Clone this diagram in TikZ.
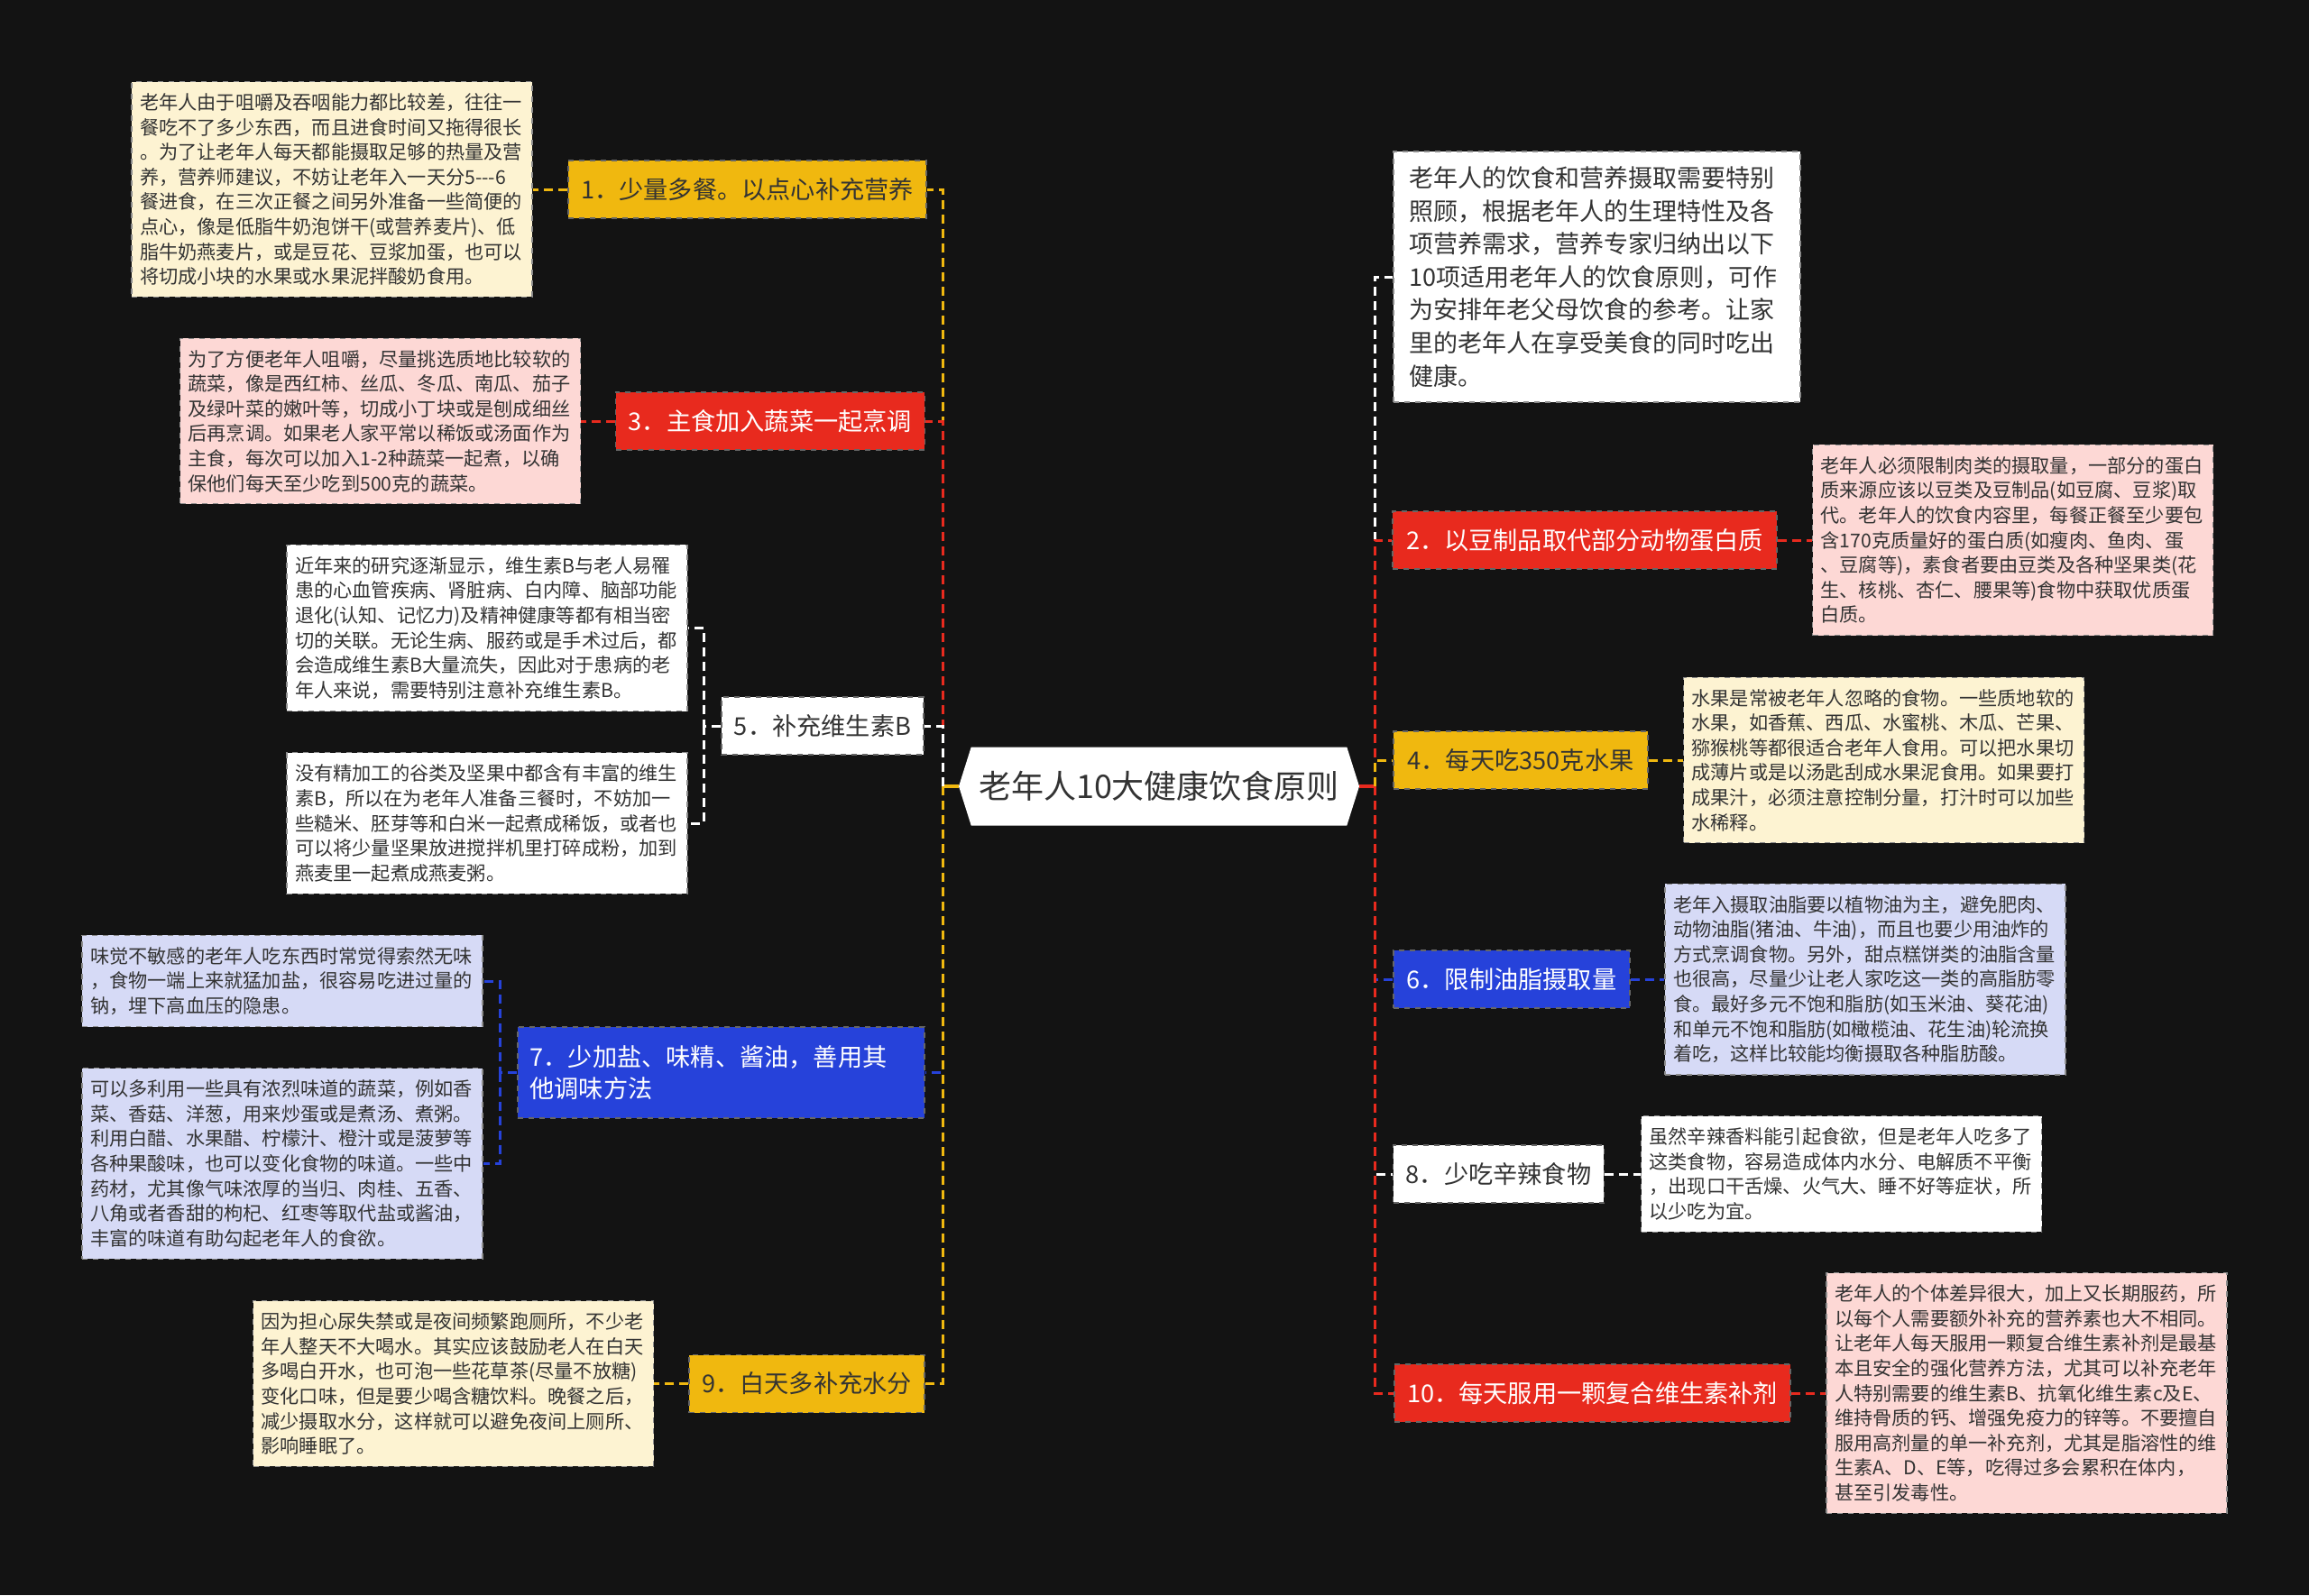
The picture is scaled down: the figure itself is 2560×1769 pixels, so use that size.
\documentclass[tikz,border=0pt]{standalone}
\usepackage{fontspec}
\newfontfamily\cjk{Noto Sans CJK SC}
\usetikzlibrary{shapes.symbols}
\definecolor{bgc}{HTML}{131313}
\definecolor{secY}{HTML}{F0B80F}
\definecolor{secYl}{HTML}{FDF3D2}
\definecolor{secR}{HTML}{E82A1E}
\definecolor{secRl}{HTML}{FDD8D5}
\definecolor{secU}{HTML}{2642DA}
\definecolor{secUl}{HTML}{D6DAF6}
\definecolor{ink}{HTML}{333333}

\begin{document}
\begin{tikzpicture}[x=0.5pt, y=-0.5pt,
 hub/.style={signal, signal to=west and east, signal pointer angle=145, fill=white, text=ink,
             font=\cjk\fontsize{18}{22}\selectfont, minimum width=222pt, minimum height=43.5pt, inner sep=2pt},
 topic/.style={draw=black!60, dashed, line width=0.6pt, font=\cjk\fontsize{13.6}{17.5}\selectfont,
               minimum height=32pt, inner xsep=7pt},
 detail/.style={draw=black!45, dashed, line width=0.6pt, font=\cjk\fontsize{10.6}{13.8}\selectfont,
                text=ink, align=left, text width=213pt, inner xsep=4.5pt, inner ysep=6.5pt},
 link/.style={dash pattern=on 5pt off 3pt, line width=1.5pt},
 stem/.style={line width=1.8pt},
]
 \fill[bgc] (0,0) rectangle (2560,1769);

 \node[hub] (hub) at (1285,872) {老年人10大健康饮食原则};
 \coordinate (lsp) at (1045,872);
 \coordinate (rsp) at (1524,872);

 % left branches
 \node[topic, fill=secY, text=ink, minimum width=198.5pt] (t1) at (828.5,210) {1．少量多餐。以点心补充营养};
 \node[topic, fill=secR, text=white, minimum width=171pt] (t3) at (854,467) {3．主食加入蔬菜一起烹调};
 \node[topic, fill=white, text=ink, minimum width=112pt] (t5) at (912,805) {5．补充维生素B};
 \node[topic, fill=secU, text=white, minimum height=50.5pt, text width=212pt, align=left, inner xsep=6.75pt] (t7) at (799.5,1189.5)
   {7．少加盐、味精、酱油，善用其\\他调味方法};
 \node[topic, fill=secY, text=ink, minimum width=130.5pt] (t9) at (894.5,1534.5) {9．白天多补充水分};

 \node[detail, fill=secYl] (d1) at (368,210) {老年人由于咀嚼及吞咽能力都比较差，往往一\\餐吃不了多少东西，而且进食时间又拖得很长\\。为了让老年人每天都能摄取足够的热量及营\\养，营养师建议，不妨让老年入一天分5{-}{-}{-}6\\餐进食，在三次正餐之间另外准备一些简便的\\点心，像是低脂牛奶泡饼干(或营养麦片)、低\\脂牛奶燕麦片，或是豆花、豆浆加蛋，也可以\\将切成小块的水果或水果泥拌酸奶食用。};
 \node[detail, fill=secRl] (d3) at (421.5,467) {为了方便老年人咀嚼，尽量挑选质地比较软的\\蔬菜，像是西红柿、丝瓜、冬瓜、南瓜、茄子\\及绿叶菜的嫩叶等，切成小丁块或是刨成细丝\\后再烹调。如果老人家平常以稀饭或汤面作为\\主食，每次可以加入1-2种蔬菜一起煮，以确\\保他们每天至少吃到500克的蔬菜。};
 \node[detail, fill=white] (d5a) at (540,696.5) {近年来的研究逐渐显示，维生素B与老人易罹\\患的心血管疾病、肾脏病、白内障、脑部功能\\退化(认知、记忆力)及精神健康等都有相当密\\切的关联。无论生病、服药或是手术过后，都\\会造成维生素B大量流失，因此对于患病的老\\年人来说，需要特别注意补充维生素B。};
 \node[detail, fill=white] (d5b) at (540,913) {没有精加工的谷类及坚果中都含有丰富的维生\\素B，所以在为老年人准备三餐时，不妨加一\\些糙米、胚芽等和白米一起煮成稀饭，或者也\\可以将少量坚果放进搅拌机里打碎成粉，加到\\燕麦里一起煮成燕麦粥。};
 \node[detail, fill=secUl] (d7a) at (313,1088) {味觉不敏感的老年人吃东西时常觉得索然无味\\，食物一端上来就猛加盐，很容易吃进过量的\\钠，埋下高血压的隐患。};
 \node[detail, fill=secUl] (d7b) at (313,1290.5) {可以多利用一些具有浓烈味道的蔬菜，例如香\\菜、香菇、洋葱，用来炒蛋或是煮汤、煮粥。\\利用白醋、水果醋、柠檬汁、橙汁或是菠萝等\\各种果酸味，也可以变化食物的味道。一些中\\药材，尤其像气味浓厚的当归、肉桂、五香、\\八角或者香甜的枸杞、红枣等取代盐或酱油，\\丰富的味道有助勾起老年人的食欲。};
 \node[detail, fill=secYl] (d9) at (502.5,1534.5) {因为担心尿失禁或是夜间频繁跑厕所，不少老\\年人整天不大喝水。其实应该鼓励老人在白天\\多喝白开水，也可泡一些花草茶(尽量不放糖)\\变化口味，但是要少喝含糖饮料。晚餐之后，\\减少摄取水分，这样就可以避免夜间上厕所、\\影响睡眠了。};
 \coordinate (b5) at (780,805);
 \coordinate (b7) at (554,1189.5);

 % right branches
 \node[detail, fill=white, font=\cjk\fontsize{13.5}{18.3}\selectfont, text width=208pt, inner xsep=8.75pt, inner ysep=8.3pt]
   (intro) at (1770.5,307) {老年人的饮食和营养摄取需要特别\\照顾，根据老年人的生理特性及各\\项营养需求，营养专家归纳出以下\\10项适用老年人的饮食原则，可作\\为安排年老父母饮食的参考。让家\\里的老年人在享受美食的同时吃出\\健康。};
 \node[topic, fill=secR, text=white, minimum width=213pt] (t2) at (1757,599) {2．以豆制品取代部分动物蛋白质};
 \node[topic, fill=secY, text=ink, minimum width=141pt] (t4) at (1686,843) {4．每天吃350克水果};
 \node[topic, fill=secU, text=white, minimum width=131pt] (t6) at (1676,1086) {6．限制油脂摄取量};
 \node[topic, fill=white, text=ink, minimum width=116.5pt] (t8) at (1661.5,1302) {8．少吃辛辣食物};
 \node[topic, fill=secR, text=white, minimum width=219.5pt] (t10) at (1765.5,1545) {10．每天服用一颗复合维生素补剂};

 \node[detail, fill=secRl] (d2) at (2231.5,599) {老年人必须限制肉类的摄取量，一部分的蛋白\\质来源应该以豆类及豆制品(如豆腐、豆浆)取\\代。老年人的饮食内容里，每餐正餐至少要包\\含170克质量好的蛋白质(如瘦肉、鱼肉、蛋\\、豆腐等)，素食者要由豆类及各种坚果类(花\\生、核桃、杏仁、腰果等)食物中获取优质蛋\\白质。};
 \node[detail, fill=secYl] (d4) at (2088.5,843) {水果是常被老年人忽略的食物。一些质地软的\\水果，如香蕉、西瓜、水蜜桃、木瓜、芒果、\\猕猴桃等都很适合老年人食用。可以把水果切\\成薄片或是以汤匙刮成水果泥食用。如果要打\\成果汁，必须注意控制分量，打汁时可以加些\\水稀释。};
 \node[detail, fill=secUl] (d6) at (2068,1086) {老年入摄取油脂要以植物油为主，避免肥肉、\\动物油脂(猪油、牛油)，而且也要少用油炸的\\方式烹调食物。另外，甜点糕饼类的油脂含量\\也很高，尽量少让老人家吃这一类的高脂肪零\\食。最好多元不饱和脂肪(如玉米油、葵花油)\\和单元不饱和脂肪(如橄榄油、花生油)轮流换\\着吃，这样比较能均衡摄取各种脂肪酸。};
 \node[detail, fill=white] (d8) at (2041.5,1302) {虽然辛辣香料能引起食欲，但是老年人吃多了\\这类食物，容易造成体内水分、电解质不平衡\\，出现口干舌燥、火气大、睡不好等症状，所\\以少吃为宜。};
 \node[detail, fill=secRl] (d10) at (2247,1545) {老年人的个体差异很大，加上又长期服药，所\\以每个人需要额外补充的营养素也大不相同。\\让老年人每天服用一颗复合维生素补剂是最基\\本且安全的强化营养方法，尤其可以补充老年\\人特别需要的维生素B、抗氧化维生素c及E、\\维持骨质的钙、增强免疫力的锌等。不要擅自\\服用高剂量的单一补充剂，尤其是脂溶性的维\\生素A、D、E等，吃得过多会累积在体内，\\甚至引发毒性。};

 % hub to the two spines
 \draw[stem, secY] (hub.west) -- (lsp);
 \draw[stem, secR] (hub.east) -- (rsp);
 \draw[link, secY] (lsp) |- (t1.east);
 \draw[link, secR] (lsp) |- (t3.east);
 \draw[link, white] (lsp) |- (t5.east);
 \draw[link, secU] (lsp) |- (t7.east);
 \draw[link, secY] (lsp) |- (t9.east);
 \draw[link, white] (rsp) |- (intro.west);
 \draw[link, secR] (rsp) |- (t2.west);
 \draw[link, secY] (rsp) |- (t4.west);
 \draw[link, secU] (rsp) |- (t6.west);
 \draw[link, white] (rsp) |- (t8.west);
 \draw[link, secR] (rsp) |- (t10.west);

 % topic to detail
 \draw[link, secY] (t1.west) -- (d1.east);
 \draw[link, secR] (t3.west) -- (d3.east);
 \draw[link, white] (t5.west) -- (b5) |- (d5a.east);
 \draw[link, white] (b5) |- (d5b.east);
 \draw[link, secU] (t7.west) -- (b7) |- (d7a.east);
 \draw[link, secU] (b7) |- (d7b.east);
 \draw[link, secY] (t9.west) -- (d9.east);
 \draw[link, secR] (t2.east) -- (d2.west);
 \draw[link, secY] (t4.east) -- (d4.west);
 \draw[link, secU] (t6.east) -- (d6.west);
 \draw[link, white] (t8.east) -- (d8.west);
 \draw[link, secR] (t10.east) -- (d10.west);
\end{tikzpicture}
\end{document}
